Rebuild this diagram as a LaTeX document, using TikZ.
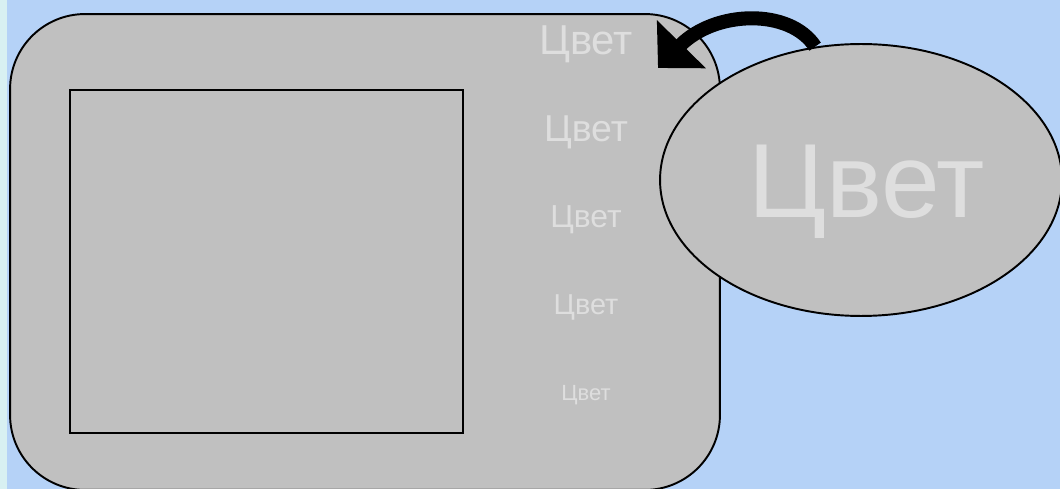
\documentclass[tikz,border=0pt]{standalone}
\usepackage{fontspec}
\newfontfamily\labelfont{Liberation Sans}
\usetikzlibrary{shapes.geometric, arrows.meta, positioning}
\definecolor{skyblue}{RGB}{181,210,247}
\definecolor{paleside}{RGB}{216,240,242}
\definecolor{panelgray}{RGB}{192,192,192}
\definecolor{textgray}{RGB}{222,222,222}
\newcommand{\pxfont}[1]{\labelfont\fontsize{#1}{#1}\selectfont}

\begin{document}
\begin{tikzpicture}[
    x=0.02cm, y=-0.02cm,
    panel/.style={rectangle, draw, line width=1.1pt, fill=panelgray, inner sep=0pt},
    bubble/.style={ellipse, draw, line width=1.1pt, fill=panelgray, inner sep=0pt, minimum width=8.04cm, minimum height=5.44cm},
    colour/.style={text=textgray, anchor=base, inner sep=0pt},
    curvedarrow/.style={-{Triangle[length=19pt, width=38pt]}, line width=8pt},
]

% background
\useasboundingbox (0,0) rectangle (1060,489);
\fill[skyblue] (0,0) rectangle (1060,489);
\fill[paleside] (0,0) rectangle (7,489);

\node[panel, rounded corners=1.5cm, minimum width=14.2cm, minimum height=9.52cm] (body) at (365,252) {};
\node[panel, minimum width=7.86cm, minimum height=6.86cm] (screen) at (266.5,261.5) {};

\node[colour, font=\pxfont{23.8}] (c1) at (586,55) {Цвет};
\node[colour, font=\pxfont{21.3}] (c2) at (586,142) {Цвет};
\node[colour, font=\pxfont{18.1}] (c3) at (586,228) {Цвет};
\node[colour, font=\pxfont{16.4}] (c4) at (586,314) {Цвет};
\node[colour, font=\pxfont{12.5}] (c5) at (586,400) {Цвет};

\node[bubble] (bub) at (861,180) {};
\coordinate (tip) at (658,68);
\draw[curvedarrow] (bub.109) .. controls (790,8) and (715,10) .. (tip);
\node[colour, font=\pxfont{60}] (big) at (867,218) {Цвет};

\end{tikzpicture}
\end{document}
